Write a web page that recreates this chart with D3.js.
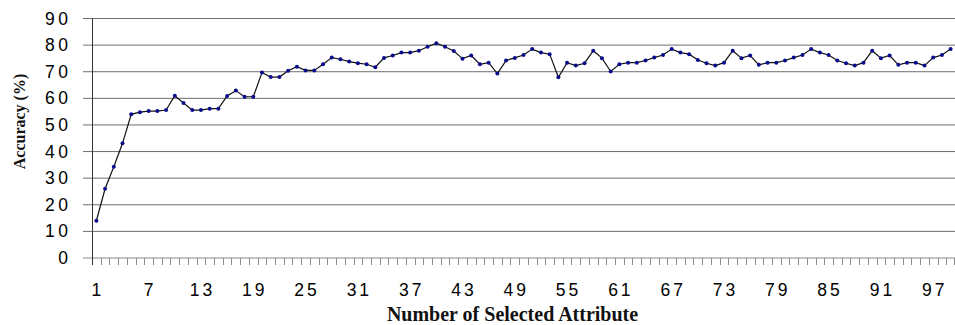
<!DOCTYPE html>
<html>
<head>
<meta charset="utf-8">
<script src="https://cdn.jsdelivr.net/npm/d3@7"></script>
<style>
  html, body { margin: 0; padding: 0; background: #fff; }
  svg { display: block; }
</style>
</head>
<body>
<svg id="chart" width="955" height="325"></svg>
<script>
// ---- data ----
const attributes = d3.range(1, 100); // 1..99
const accuracy = [
  14, 26, 34.3, 43.1, 54, 54.8, 55.2, 55.2, 55.6, 61,
  58.2, 55.6, 55.6, 56.1, 56.1, 60.9, 62.9, 60.6, 60.6, 69.7,
  68, 68, 70.4, 71.9, 70.5, 70.5, 72.8, 75.3, 74.7, 73.8,
  73.2, 72.8, 71.7, 75.2, 76.1, 77.2, 77.2, 77.9, 79.4, 80.7,
  79.4, 77.8, 74.9, 76.1, 72.8, 73.4, 69.3, 74.2, 75.2, 76.3,
  78.5, 77.2, 76.6, 67.9, 73.4, 72.3, 73.2, 77.9, 75.1, 70.1,
  72.8, 73.4, 73.4, 74.2, 75.3, 76.3, 78.5, 77.2, 76.6, 74.4,
  73.2, 72.3, 73.4, 77.9, 75.1, 76.1, 72.6, 73.4, 73.4, 74.2,
  75.3, 76.3, 78.5, 77.2, 76.3, 74.2, 73.2, 72.3, 73.4, 77.9,
  75.1, 76.1, 72.6, 73.4, 73.4, 72.3, 75.3, 76.3, 78.5
];
const yTicks = [0, 10, 20, 30, 40, 50, 60, 70, 80, 90];
const xTickLabels = attributes.filter(a => (a - 1) % 6 === 0);
const yTitle = "Accuracy (%)";
const xTitle = "Number of Selected Attribute";

// ---- layout ----
const svg = d3.select("#chart");
const mLeft = 92, mRight = 955, mTop = 18.5, mBottom = 258;

const x = d3.scaleBand().domain(attributes).range([mLeft, mRight]).paddingInner(0).paddingOuter(0);
const y = d3.scaleLinear().domain([0, 90]).range([mBottom, mTop]);
const cx = d => x(d) + x.bandwidth() / 2;

// gridlines
svg.append("g").selectAll("line").data(yTicks.filter(t => t > 0)).join("line")
  .attr("x1", mLeft - 9).attr("x2", mRight)
  .attr("y1", d => y(d)).attr("y2", d => y(d))
  .attr("stroke", "#6e6e6e").attr("stroke-width", 1);

// x axis baseline + ticks at band boundaries
svg.append("line").attr("x1", mLeft - 9).attr("x2", mRight).attr("y1", mBottom).attr("y2", mBottom)
  .attr("stroke", "#8a8a8a").attr("stroke-width", 1.2);
svg.append("g").selectAll("line").data(attributes.slice(1)).join("line")
  .attr("x1", d => Math.round(x(d)) + 0.5).attr("x2", d => Math.round(x(d)) + 0.5)
  .attr("y1", mBottom).attr("y2", mBottom + 7)
  .attr("stroke", "#8a8a8a").attr("stroke-width", 1);
svg.append("line").attr("x1", mRight - 0.5).attr("x2", mRight - 0.5).attr("y1", mBottom).attr("y2", mBottom + 7)
  .attr("stroke", "#8a8a8a");

// y axis line
svg.append("line").attr("x1", mLeft + 0.5).attr("x2", mLeft + 0.5).attr("y1", mTop).attr("y2", mBottom + 7)
  .attr("stroke", "#333").attr("stroke-width", 1);

// y tick labels
svg.append("g").selectAll("text").data(yTicks).join("text")
  .attr("x", 68 + 3.5).attr("y", d => y(d))
  .attr("text-anchor", "end").attr("dominant-baseline", "central")
  .attr("font-family", "Liberation Sans, Arial, sans-serif").attr("font-size", 17.5)
  .attr("letter-spacing", "3.5px").attr("fill", "#000")
  .text(d => d);

// x tick labels
svg.append("g").selectAll("text").data(xTickLabels).join("text")
  .attr("x", d => cx(d) + 1.5).attr("y", 296)
  .attr("text-anchor", "middle")
  .attr("font-family", "Liberation Sans, Arial, sans-serif").attr("font-size", 17.5)
  .attr("letter-spacing", "3px").attr("fill", "#000")
  .text(d => d);

// axis titles
svg.append("text")
  .attr("transform", `translate(25,121.5) rotate(-90)`)
  .attr("text-anchor", "middle")
  .attr("font-family", "Liberation Serif, Times New Roman, serif").attr("font-weight", "bold")
  .attr("font-size", 16).attr("fill", "#111")
  .text(yTitle);

svg.append("text")
  .attr("x", 512.5).attr("y", 321)
  .attr("text-anchor", "middle")
  .attr("font-family", "Liberation Serif, Times New Roman, serif").attr("font-weight", "bold")
  .attr("font-size", 20).attr("fill", "#111")
  .text(xTitle);

// line
const data = attributes.map((a, i) => ({ a, v: accuracy[i] }));
svg.append("path").datum(data)
  .attr("fill", "none").attr("stroke", "#111").attr("stroke-width", 1.2)
  .attr("d", d3.line().x(d => cx(d.a)).y(d => y(d.v)));

// markers
svg.append("g").selectAll("circle").data(data).join("circle")
  .attr("cx", d => cx(d.a)).attr("cy", d => y(d.v)).attr("r", 2)
  .attr("fill", "#0a0a8c");
</script>
</body>
</html>
